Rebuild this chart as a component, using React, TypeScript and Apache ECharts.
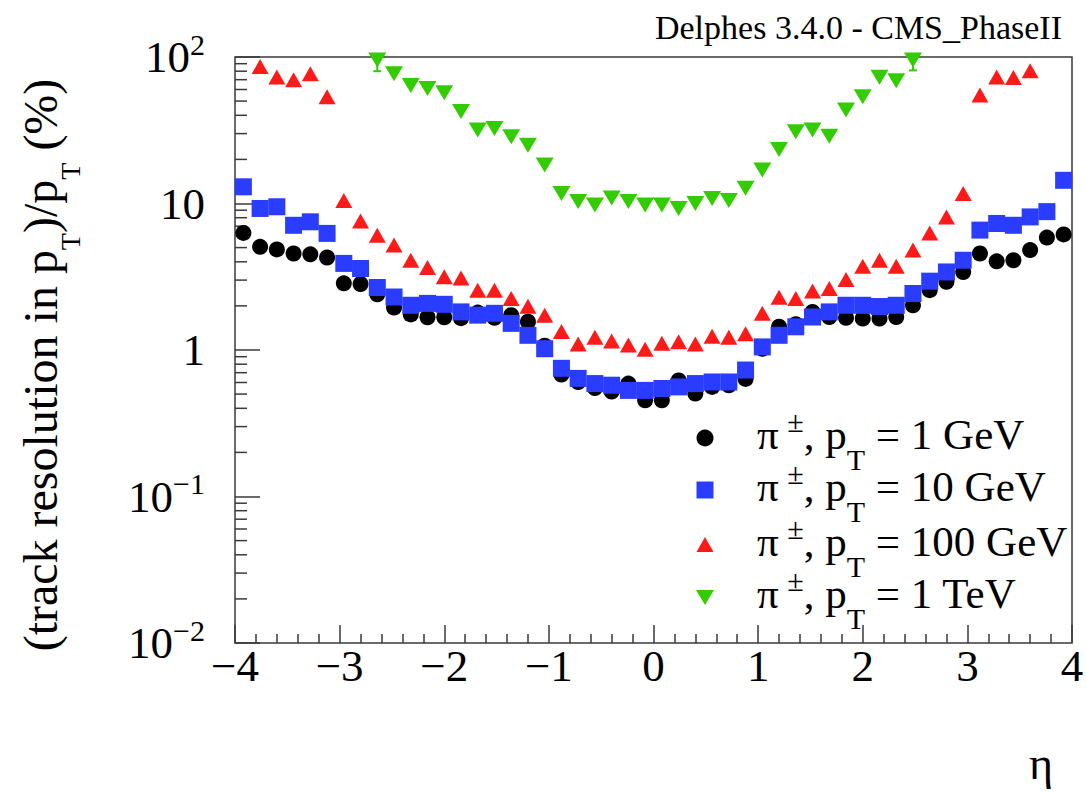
import React, { useEffect, useRef } from "react";
import * as echarts from "echarts";

// bin centres in eta (50 bins of width 0.16)
const eta = [
  -3.92, -3.76, -3.6, -3.44, -3.28, -3.12, -2.96, -2.8, -2.64, -2.48,
  -2.32, -2.16, -2.0, -1.84, -1.68, -1.52, -1.36, -1.2, -1.04, -0.88,
  -0.72, -0.56, -0.4, -0.24, -0.08, 0.08, 0.24, 0.4, 0.56, 0.72,
  0.88, 1.04, 1.2, 1.36, 1.52, 1.68, 1.84, 2.0, 2.16, 2.32,
  2.48, 2.64, 2.8, 2.96, 3.12, 3.28, 3.44, 3.6, 3.76, 3.92,
];

// resolution (%) per bin
const pt1GeV = [
  6.3, 5.06, 4.86, 4.56, 4.5, 4.28, 2.85, 2.82, 2.4, 1.95,
  1.75, 1.67, 1.67, 1.65, 1.8, 1.66, 1.73, 1.56, 1.07, 0.68,
  0.605, 0.55, 0.52, 0.59, 0.454, 0.454, 0.62, 0.505, 0.56, 0.575,
  0.635, 1.02, 1.44, 1.5, 1.82, 1.68, 1.66, 1.64, 1.64, 1.68,
  2.02, 2.56, 2.92, 3.41, 4.56, 4.03, 4.1, 4.81, 5.85, 6.15,
];
const pt10GeV = [
  13.0, 9.25, 9.5, 7.1, 7.5, 6.25, 3.9, 3.6, 2.67, 2.3,
  2.02, 2.08, 2.05, 1.82, 1.73, 1.78, 1.52, 1.26, 1.02, 0.75,
  0.64, 0.59, 0.575, 0.53, 0.53, 0.546, 0.56, 0.59, 0.605, 0.605,
  0.73, 1.05, 1.26, 1.44, 1.68, 1.82, 2.02, 2.02, 1.98, 2.02,
  2.43, 2.95, 3.41, 4.1, 6.58, 7.3, 7.1, 8.1, 8.8, 14.4,
];
const pt100GeV = [
  null, 86, 73, 70, 77, 53.5, 10.5, 7.6, 6.08, 5.2,
  4.1, 3.66, 3.16, 3.1, 2.56, 2.56, 2.25, 1.99, 1.73, 1.34,
  1.1, 1.22, 1.15, 1.08, 1.01, 1.11, 1.14, 1.1, 1.24, 1.22,
  1.29, 1.78, 2.29, 2.25, 2.53, 2.63, 3.03, 3.73, 4.1, 3.73,
  4.81, 6.3, 8.1, 11.7, 55, 73, 72.5, 80.6, null, null,
];
const pt1TeV = [
  null, null, null, null, null, null, null, null, 95.5, 77,
  64, 61, 57, 42.4, 31.7, 32.5, 28.6, 25, 18.3, 11.7,
  10.3, 9.75, 10.9, 10.3, 9.75, 9.75, 9.25, 10, 10.8, 10.5,
  12.7, 16.9, 23.4, 30.9, 31.7, 28.8, 43.5, 53.5, 72.6, 68.9,
  95.5, null, null, null, null, null, null, null, null, null,
];

// visible error bars (1 TeV points at the top edge)
const errEta = [-2.64, 2.48];
const errLow = [80, 81];
const errHigh = [100, 100];

// axis ticks
const yDecades = [0.01, 0.1, 1, 10];
const yMinorMultipliers = [2, 3, 4, 5, 6, 7, 8, 9];
const yTickLabels: Record<string, string> = {
  "2": "{b|10}{s|2}",
  "1": "{b|10}",
  "0": "{b|1}",
  "-1": "{b|10}{s|\u22121}",
  "-2": "{b|10}{s|\u22122}",
};

const legendLabels = [
  "{m|\u03c0\u2009}{sp|\u00b1}{m|, p}{sb|T}{m| = 1 GeV}",
  "{m|\u03c0\u2009}{sp|\u00b1}{m|, p}{sb|T}{m| = 10 GeV}",
  "{m|\u03c0\u2009}{sp|\u00b1}{m|, p}{sb|T}{m| = 100 GeV}",
  "{m|\u03c0\u2009}{sp|\u00b1}{m|, p}{sb|T}{m| = 1 TeV}",
];

const SERIF = "'Liberation Serif', 'Times New Roman', 'DejaVu Serif', serif";
const FRAME = "#3a3a3a";
const C_BLACK = "#000000";
const C_BLUE = "#2a3cff";
const C_RED = "#ff1a1a";
const C_GREEN = "#33cc00";

function pairs(vals: (number | null)[]) {
  const out: number[][] = [];
  vals.forEach((v, i) => {
    if (v != null) out.push([eta[i], v]);
  });
  return out;
}

export default function App() {
  const ref = useRef<HTMLDivElement>(null);

  useEffect(() => {
    if (!ref.current) return;
    const chart = echarts.init(ref.current, undefined, { renderer: "svg" });

    const minorTicks: number[][] = [];
    yDecades.forEach((d) => yMinorMultipliers.forEach((m) => minorTicks.push([-4, d * m])));

    const errData = errEta.map((x, i) => [x, errLow[i], errHigh[i]]);

    const legendRich = {
      m: { fontSize: 43, fontFamily: SERIF, color: "#000" },
      sp: { fontSize: 30, fontFamily: SERIF, color: "#000", padding: [0, 0, 26, 0] },
      sb: { fontSize: 30, fontFamily: SERIF, color: "#000", padding: [50, 0, 0, 0] },
    };
    const rowY = [438, 490, 545, 597];
    const mx = 705;

    const legendMarkers: any[] = [
      { type: "circle", shape: { cx: mx, cy: rowY[0], r: 8.5 }, style: { fill: C_BLACK } },
      { type: "rect", shape: { x: mx - 8.5, y: rowY[1] - 8.5, width: 17, height: 17 }, style: { fill: C_BLUE } },
      {
        type: "polygon",
        shape: { points: [[mx, rowY[2] - 8], [mx + 8.5, rowY[2] + 7], [mx - 8.5, rowY[2] + 7]] },
        style: { fill: C_RED },
      },
      {
        type: "polygon",
        shape: { points: [[mx - 9, rowY[3] - 7], [mx + 9, rowY[3] - 7], [mx, rowY[3] + 8]] },
        style: { fill: C_GREEN },
      },
    ];
    const legendTexts = legendLabels.map((t, i) => ({
      type: "text",
      x: 757,
      y: rowY[i] - 4,
      style: {
        text: t,
        rich: legendRich,
        fontSize: 43,
        fontFamily: SERIF,
        fill: "#000",
        align: "left",
        verticalAlign: "middle",
        textAlign: "left",
        textVerticalAlign: "middle",
      },
    }));

    const option: any = {
      animation: false,
      backgroundColor: "#ffffff",
      grid: {
        left: 235,
        top: 57,
        width: 837,
        height: 586,
        show: true,
        borderColor: FRAME,
        borderWidth: 1.5,
        backgroundColor: "transparent",
        containLabel: false,
        outerBoundsMode: "none",
      },
      xAxis: {
        type: "value",
        min: -4,
        max: 4,
        interval: 1,
        axisLine: { show: false, onZero: false },
        axisTick: { show: true, inside: true, length: 18, lineStyle: { color: FRAME, width: 1.5 } },
        minorTick: { show: true, splitNumber: 5, length: 9, lineStyle: { color: FRAME, width: 1.5 } },
        splitLine: { show: false },
        minorSplitLine: { show: false },
        axisLabel: {
          fontSize: 45,
          fontFamily: SERIF,
          color: "#000",
          margin: 0,
          showMinLabel: true,
          showMaxLabel: true,
          hideOverlap: false,
          formatter: (v: number) => (v < 0 ? "\u2212" + Math.abs(v) : String(v)),
        },
      },
      yAxis: {
        type: "log",
        logBase: 10,
        min: 0.01,
        max: 100,
        axisLine: { show: false, onZero: false },
        axisTick: { show: true, inside: true, length: 25, lineStyle: { color: FRAME, width: 1.5 } },
        splitLine: { show: false },
        axisLabel: {
          fontSize: 45,
          fontFamily: SERIF,
          color: "#000",
          margin: 30,
          showMinLabel: true,
          showMaxLabel: true,
          hideOverlap: false,
          formatter: (v: number) => yTickLabels[String(Math.round(Math.log10(v)))] || "",
          rich: {
            b: { fontSize: 45, fontFamily: SERIF, color: "#000" },
            s: { fontSize: 30, fontFamily: SERIF, color: "#000", padding: [0, 0, 26, 0] },
          },
        },
      },
      series: [
        {
          type: "custom",
          name: "minorTicks",
          silent: true,
          data: minorTicks,
          encode: { x: 0, y: 1 },
          renderItem: (_p: any, api: any) => {
            const pt = api.coord([api.value(0), api.value(1)]);
            return {
              type: "line",
              shape: { x1: pt[0], y1: pt[1], x2: pt[0] + 12, y2: pt[1] },
              style: { stroke: FRAME, lineWidth: 1.5 },
            };
          },
          z: 1,
        },
        {
          type: "scatter",
          name: "pT = 1 GeV",
          symbol: "circle",
          symbolSize: 16,
          itemStyle: { color: C_BLACK, opacity: 1 },
          data: pairs(pt1GeV),
          z: 2,
        },
        {
          type: "scatter",
          name: "pT = 10 GeV",
          symbol: "rect",
          symbolSize: 17,
          itemStyle: { color: C_BLUE, opacity: 1 },
          data: pairs(pt10GeV),
          z: 3,
        },
        {
          type: "scatter",
          name: "pT = 100 GeV",
          symbol: "triangle",
          symbolSize: [17, 15],
          itemStyle: { color: C_RED, opacity: 1 },
          data: pairs(pt100GeV),
          z: 4,
        },
        {
          type: "custom",
          name: "errors",
          silent: true,
          data: errData,
          encode: { x: 0, y: [1, 2] },
          renderItem: (_p: any, api: any) => {
            const lo = api.coord([api.value(0), api.value(1)]);
            const hi = api.coord([api.value(0), api.value(2)]);
            return {
              type: "group",
              children: [
                { type: "line", shape: { x1: lo[0], y1: lo[1], x2: hi[0], y2: hi[1] }, style: { stroke: C_GREEN, lineWidth: 2 } },
                { type: "line", shape: { x1: lo[0] - 4, y1: lo[1], x2: lo[0] + 4, y2: lo[1] }, style: { stroke: C_GREEN, lineWidth: 2 } },
              ],
            };
          },
          z: 5,
        },
        {
          type: "scatter",
          name: "pT = 1 TeV",
          symbol: "triangle",
          symbolRotate: 180,
          symbolSize: [18, 15],
          itemStyle: { color: C_GREEN, opacity: 1 },
          data: pairs(pt1TeV),
          z: 6,
        },
      ],
      graphic: [
        {
          type: "text",
          x: 1062,
          y: 27,
          style: {
            text: "Delphes 3.4.0 - CMS_PhaseII",
            fontSize: 34,
            fontFamily: SERIF,
            fill: "#000",
            align: "right",
            verticalAlign: "middle",
            textAlign: "right",
            textVerticalAlign: "middle",
          },
        },
        {
          type: "text",
          x: 1041,
          y: 763,
          style: {
            text: "\u03b7",
            fontSize: 46,
            fontFamily: SERIF,
            fill: "#000",
            align: "center",
            verticalAlign: "middle",
            textAlign: "center",
            textVerticalAlign: "middle",
          },
        },
        {
          type: "text",
          x: 40,
          y: 365,
          rotation: Math.PI / 2,
          style: {
            text: "{m|(track resolution in p}{sb|T}{m|)/p}{sb|T}{m| (%)}",
            rich: {
              m: { fontSize: 48, fontFamily: SERIF, color: "#000" },
              sb: { fontSize: 28, fontFamily: SERIF, color: "#000", padding: [60, 0, 0, 0] },
            },
            fontSize: 48,
            fontFamily: SERIF,
            fill: "#000",
            align: "center",
            verticalAlign: "middle",
            textAlign: "center",
            textVerticalAlign: "middle",
          },
        },
        ...legendMarkers,
        ...legendTexts,
      ],
    };

    chart.setOption(option);
    return () => chart.dispose();
  }, []);

  return (
    <div
      ref={ref}
      style={{ position: "absolute", left: 0, top: 0, width: 1086, height: 795, background: "#fff" }}
    />
  );
}
